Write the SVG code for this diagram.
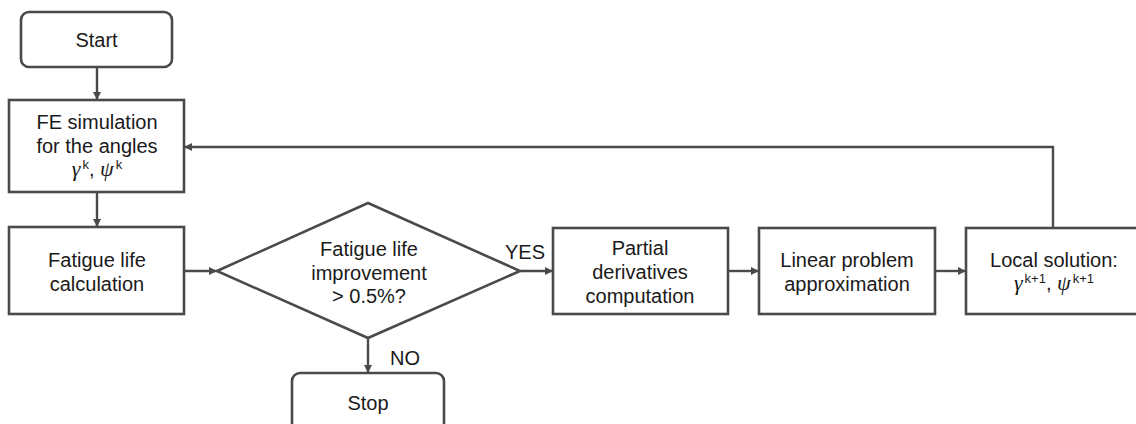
<svg xmlns="http://www.w3.org/2000/svg" width="1136" height="424" viewBox="0 0 1136 424">
<defs>
<marker id="arr" markerUnits="userSpaceOnUse" markerWidth="9" markerHeight="9" refX="8" refY="4" orient="auto">
<path d="M0,0 L8,4 L0,8 z" fill="#4a4a4a"/>
</marker>
<style>
.box{fill:#fff;stroke:#4a4a4a;stroke-width:2.6}
.ln{fill:none;stroke:#4a4a4a;stroke-width:2.4;marker-end:url(#arr)}
.t{font-family:"Liberation Sans",Arial,sans-serif;font-size:20px;fill:#1a1a1a;text-anchor:middle}
.g{font-family:"Liberation Serif","Times New Roman",serif;font-style:italic;font-size:22px}
.s{font-size:13px}
</style>
</defs>
<rect width="1136" height="424" fill="#fff"/>
<g id="connectors">
<line class="ln" x1="97" y1="67" x2="97" y2="100"/>
<line class="ln" x1="97" y1="192" x2="97" y2="227"/>
<line class="ln" x1="184" y1="271" x2="217" y2="271"/>
<line class="ln" x1="520" y1="271" x2="553" y2="271"/>
<line class="ln" x1="728" y1="271" x2="759" y2="271"/>
<line class="ln" x1="935" y1="271" x2="966" y2="271"/>
<line class="ln" x1="368" y1="338" x2="368" y2="373"/>
<path class="ln" d="M1053,228 V147 H184"/>
<text class="t" x="525" y="259">YES</text>
<text class="t" x="405" y="365">NO</text>
</g>
<g id="start">
<rect class="box" x="21" y="12" width="151" height="55" rx="8"/>
<text class="t" x="96.5" y="47">Start</text>
</g>
<g id="fe">
<rect class="box" x="9" y="100" width="175" height="92"/>
<text class="t" x="97" y="129">FE simulation</text>
<text class="t" x="97" y="153">for the angles</text>
<text class="t" x="97" y="176"><tspan class="g">γ</tspan><tspan class="s" dx="2" dy="-7">k</tspan><tspan dy="7">, </tspan><tspan class="g">ψ</tspan><tspan class="s" dx="2" dy="-7">k</tspan></text>
</g>
<g id="fatigue">
<rect class="box" x="9" y="227" width="175" height="87"/>
<text class="t" x="97" y="267">Fatigue life</text>
<text class="t" x="97" y="291">calculation</text>
</g>
<g id="decision">
<polygon class="box" points="217,271 368,203 520,271 368,338"/>
<text class="t" x="369" y="256">Fatigue life</text>
<text class="t" x="369" y="280">improvement</text>
<text class="t" x="369" y="303">&gt; 0.5%?</text>
</g>
<g id="partial">
<rect class="box" x="553" y="228" width="175" height="86"/>
<text class="t" x="640" y="255">Partial</text>
<text class="t" x="640" y="279">derivatives</text>
<text class="t" x="640" y="303">computation</text>
</g>
<g id="linear">
<rect class="box" x="759" y="228" width="176" height="86"/>
<text class="t" x="847" y="267">Linear problem</text>
<text class="t" x="847" y="291">approximation</text>
</g>
<g id="local">
<rect class="box" x="966" y="228" width="176" height="86"/>
<text class="t" x="1054" y="267">Local solution:</text>
<text class="t" x="1054" y="290"><tspan class="g">γ</tspan><tspan class="s" dx="2" dy="-7">k+1</tspan><tspan dy="7">, </tspan><tspan class="g">ψ</tspan><tspan class="s" dx="2" dy="-7">k+1</tspan></text>
</g>
<g id="stop">
<rect class="box" x="292" y="373" width="152" height="62" rx="8"/>
<text class="t" x="368" y="410">Stop</text>
</g>
</svg>
